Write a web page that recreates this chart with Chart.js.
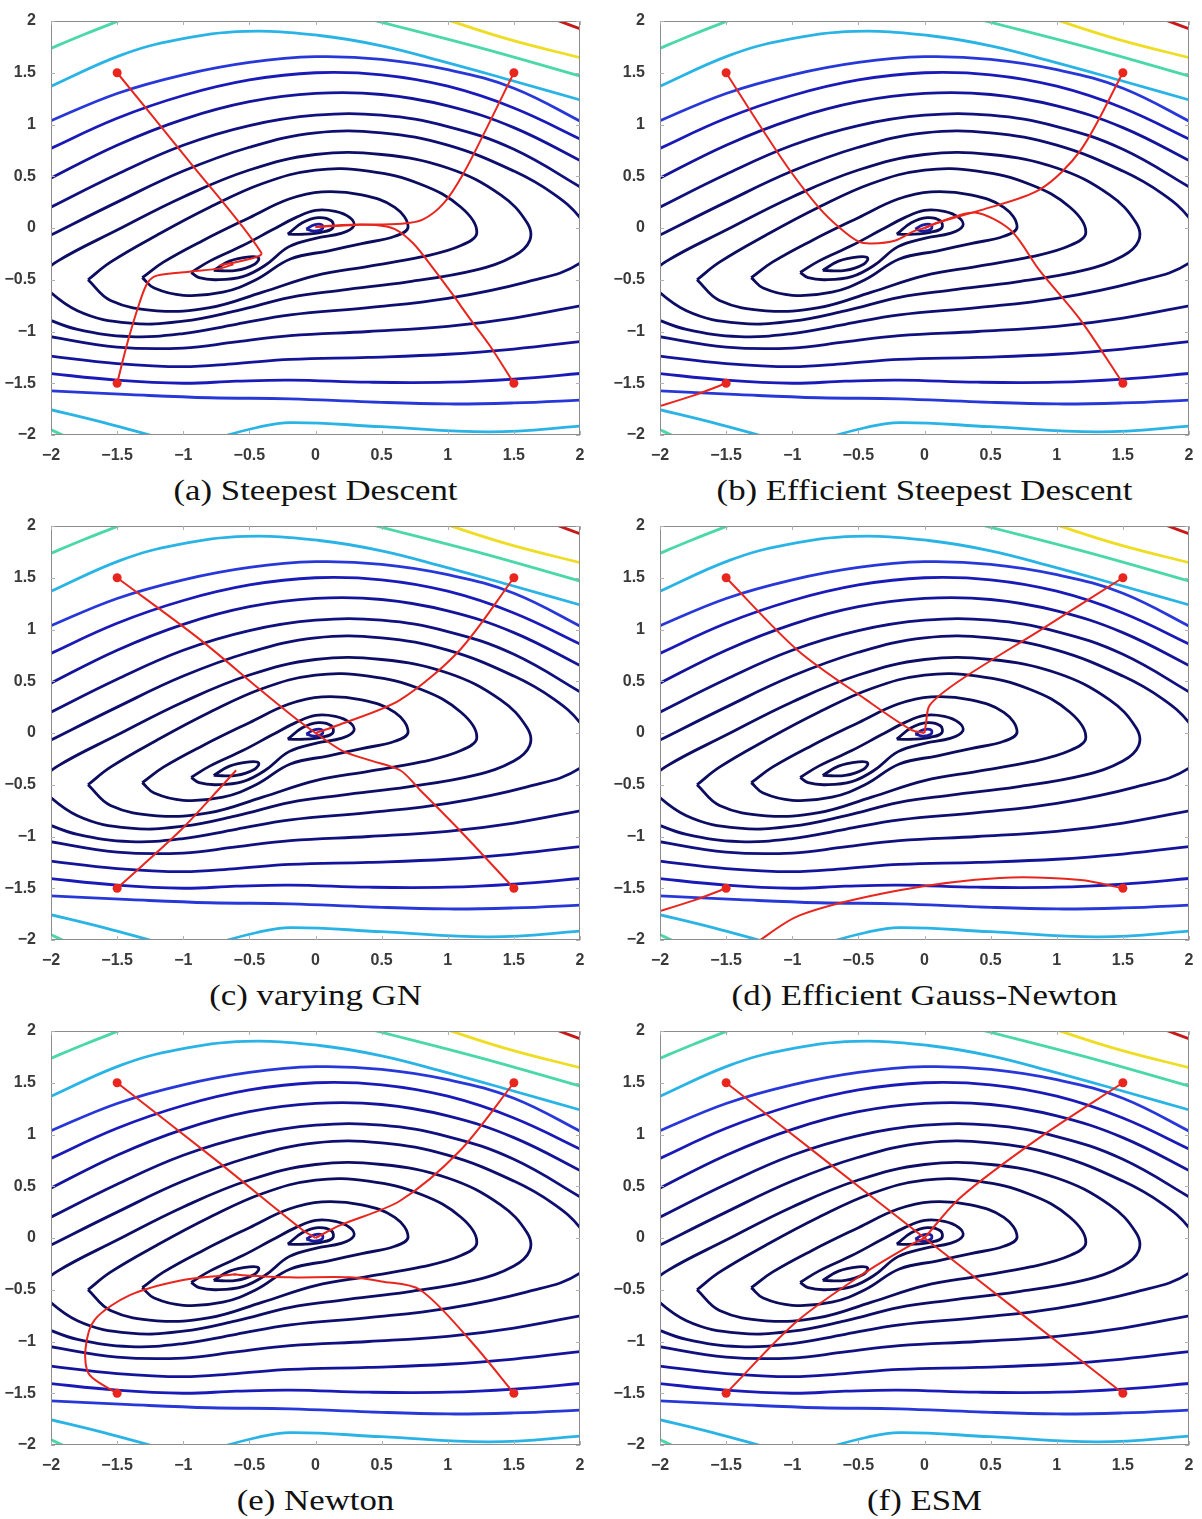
<!DOCTYPE html>
<html>
<head>
<meta charset="utf-8">
<script src="https://cdn.jsdelivr.net/npm/chart.js@4.4.0/dist/chart.umd.min.js"></script>
<style>
  body { margin: 0; background: #fff; width: 1202px; height: 1519px; position: relative; overflow: hidden; }
  .panel { position: absolute; width: 600px; height: 470px; }
  .cap { position: absolute; width: 529px; text-align: center; font-family: 'Liberation Serif', 'Times New Roman', serif;
         font-size: 30px; line-height: 34px; color: #111; transform: scaleX(1.16); }
</style>
</head>
<body>
<script>
// axes
const tickValues = [-2, -1.5, -1, -0.5, 0, 0.5, 1, 1.5, 2];
const tickLabels = ['\u22122', '\u22121.5', '\u22121', '\u22120.5', '0', '0.5', '1', '1.5', '2'];
const captions = ['(a) Steepest Descent', '(b) Efficient Steepest Descent', '(c) varying GN',
                  '(d) Efficient Gauss-Newton', '(e) Newton', '(f) ESM'];

// contour lines (same surface in every panel)
const loop0 = [[-0.07,-0.01],[-0.01,0.03],[0.05,0.03],[0.05,-0.01],[-0.01,-0.03],[-0.07,-0.01]];
const loop1 = [[-0.21,-0.06],[-0.1,0.05],[0.02,0.1],[0.12,0.07],[0.13,0.0],[0.05,-0.04],[-0.08,-0.06],[-0.21,-0.06]];
const loop1b = [[-0.77,-0.41],[-0.65,-0.32],[-0.5,-0.28],[-0.43,-0.29],[-0.46,-0.35],[-0.6,-0.41],[-0.77,-0.41]];
const loop2 = [[-0.94,-0.43],[-0.8,-0.32],[-0.55,-0.17],[-0.33,-0.02],[-0.15,0.1],[0.0,0.17],[0.15,0.16],[0.26,0.1],[0.29,0.02],
               [0.2,-0.05],[0.0,-0.1],[-0.2,-0.18],[-0.38,-0.36],[-0.55,-0.47],[-0.75,-0.5],[-0.88,-0.48],[-0.94,-0.43]];
const loop3 = [[-1.31,-0.48],[-1.15,-0.33],[-0.85,-0.12],[-0.5,0.1],[-0.2,0.28],[0.05,0.35],[0.35,0.32],[0.6,0.2],[0.7,0.01],
               [0.6,-0.08],[0.35,-0.15],[0.1,-0.22],[-0.19,-0.3],[-0.45,-0.5],[-0.7,-0.62],[-1.0,-0.65],[-1.22,-0.58],[-1.31,-0.48]];
const loop4 = [[-1.72,-0.5],[-1.55,-0.33],[-1.2,-0.07],[-0.8,0.2],[-0.4,0.43],[0,0.56],[0.4,0.55],[0.8,0.42],[1.1,0.2],[1.22,-0.04],
               [1.1,-0.17],[0.8,-0.28],[0.4,-0.37],[0.0,-0.46],[-0.4,-0.62],[-0.8,-0.77],[-1.2,-0.8],[-1.55,-0.7],[-1.72,-0.5]];
const loop5 = [[-2.12,-0.5],[-1.95,-0.32],[-1.5,-0.02],[-1.0,0.3],[-0.5,0.56],[0,0.71],[0.5,0.71],[1.0,0.58],[1.4,0.32],[1.6,0.05],
               [1.62,-0.12],[1.5,-0.27],[1.2,-0.41],[0.7,-0.52],[0.2,-0.6],[-0.19,-0.67],[-0.6,-0.8],[-1.0,-0.9],[-1.4,-0.92],[-1.8,-0.8],[-2.12,-0.5]];
const c6 = [[-2.05,-0.1],[-1.5,0.25],[-1.0,0.55],[-0.5,0.78],[0,0.92],[0.5,0.92],[1.0,0.8],[1.5,0.55],[1.8,0.33],[2.0,0.1],
            [2.08,-0.12],[2.0,-0.34],[1.6,-0.52],[1.0,-0.68],[0.4,-0.77],[-0.19,-0.84],[-0.6,-0.93],[-1.0,-1.02],[-1.4,-1.05],[-1.8,-0.98],[-2.05,-0.87]];
const c7Upper = [[-2.05,0.17],[-1.5,0.52],[-1.0,0.8],[-0.5,0.99],[0,1.09],[0.5,1.09],[1.0,0.98],[1.5,0.76],[2.05,0.36]];
const c7Lower = [[2.05,-0.74],[1.5,-0.87],[1.0,-0.95],[0.4,-1.0],[-0.19,-1.04],[-0.6,-1.1],[-1.0,-1.16],[-1.5,-1.15],[-2.05,-1.04]];
const c8Upper = [[-2.05,0.45],[-1.5,0.8],[-1.0,1.05],[-0.5,1.22],[0,1.30],[0.5,1.29],[1.0,1.18],[1.5,0.97],[2.05,0.62]];
const c8Lower = [[2.05,-1.09],[1.5,-1.17],[1.0,-1.22],[0.4,-1.25],[-0.19,-1.27],[-0.6,-1.31],[-1.0,-1.34],[-1.5,-1.31],[-2.05,-1.23]];
const c9Upper = [[-2.05,0.74],[-1.5,1.06],[-1.0,1.28],[-0.5,1.43],[0,1.50],[0.5,1.48],[1.0,1.37],[1.5,1.16],[2.05,0.83]];
const c9Lower = [[2.05,-1.4],[1.5,-1.46],[1.0,-1.49],[0.4,-1.49],[-0.19,-1.47],[-0.6,-1.48],[-1.0,-1.5],[-1.5,-1.47],[-2.05,-1.4]];
const c10Upper = [[-2.05,1.01],[-1.5,1.3],[-1.0,1.48],[-0.5,1.6],[0,1.655],[0.5,1.63],[1.0,1.53],[1.5,1.35],[2.05,1.0]];
const c10Lower = [[2.05,-1.66],[1.5,-1.69],[1.0,-1.7],[0.4,-1.68],[-0.19,-1.65],[-0.8,-1.64],[-1.4,-1.61],[-2.05,-1.57]];
const cyanUpper = [[-2.05,1.34],[-1.47,1.67],[-1.04,1.82],[-0.53,1.9],[0.03,1.86],[0.5,1.76],[0.96,1.61],[1.47,1.43],[2.05,1.22]];
const cyanLower = [[-2.05,-1.74],[-1.6,-1.88],[-1.2,-2.02]];
const cyanBottom = [[-0.8,-2.05],[-0.45,-1.93],[-0.19,-1.88],[0.5,-1.92],[1.32,-1.97],[2.05,-1.91]];
const greenLeft = [[-2.05,1.71],[-1.75,1.87],[-1.45,2.02]];
const greenRight = [[0.4,2.02],[1.22,1.75],[2.05,1.45]];
const greenCorner = [[-2.05,-1.92],[-1.88,-2.02]];
const yellowLine = [[0.95,2.03],[1.47,1.82],[2.05,1.63]];
const redLine = [[1.78,2.03],[2.05,1.9]];

const contourList = [
  { pts: loop0, color: '#1a1aa0' }, { pts: loop1, color: '#0c0c58' }, { pts: loop1b, color: '#0c0c58' }, { pts: loop2, color: '#0c0c58' },
  { pts: loop3, color: '#0c0c5c' }, { pts: loop4, color: '#0c0c60' }, { pts: loop5, color: '#0d0d66' },
  { pts: c6, color: '#0e0e70' },
  { pts: c7Upper, color: '#10107e' }, { pts: c7Lower, color: '#10107e' },
  { pts: c8Upper, color: '#14149a' }, { pts: c8Lower, color: '#14149a' },
  { pts: c9Upper, color: '#1a1ab8' }, { pts: c9Lower, color: '#1a1ab8' },
  { pts: c10Upper, color: '#2838d8' }, { pts: c10Lower, color: '#2838d8' },
  { pts: cyanUpper, color: '#2ab4e6' }, { pts: cyanLower, color: '#2ab4e6' }, { pts: cyanBottom, color: '#2ab4e6' },
  { pts: greenLeft, color: '#4ad8a8' }, { pts: greenRight, color: '#4ad8a8' }, { pts: greenCorner, color: '#4ad8a8' },
  { pts: yellowLine, color: '#eedd22' }, { pts: redLine, color: '#c81818' }
];

// optimisation paths, one list per panel (start point first)
const pathsA = [
  [[-1.5,1.5],[-0.96,0.65],[-0.41,-0.24],[-0.5,-0.3],[-0.72,-0.36],[-0.6,-0.33]],
  [[-1.5,-1.5],[-1.42,-1.1],[-1.33,-0.72],[-1.27,-0.53],[-1.2,-0.46],[-0.94,-0.42],[-0.72,-0.39],[-0.62,-0.35]],
  [[1.5,1.5],[1.3,0.98],[1.12,0.53],[0.97,0.24],[0.81,0.08],[0.65,0.04],[0.3,0.03],[0,0.01]],
  [[1.5,-1.5],[1.32,-1.14],[1.17,-0.88],[1.03,-0.63],[0.89,-0.39],[0.74,-0.15],[0.6,-0.01],[0.45,0.03],[0.2,0.03],[0,0.01]]
];
const pathsB = [
  [[-1.5,1.5],[-1.25,1.0],[-1.02,0.56],[-0.8,0.2],[-0.64,0.0],[-0.5,-0.13],[-0.4,-0.15],[-0.22,-0.12],[-0.08,-0.03],[0,0]],
  [[1.5,1.5],[1.18,0.75],[0.87,0.37],[0.42,0.17],[0.12,0.06],[0,0]],
  [[1.5,-1.5],[1.18,-0.89],[0.87,-0.41],[0.65,-0.02],[0.38,0.15],[0.12,0.06],[0,0]],
  [[-1.5,-1.5],[-1.75,-1.62],[-2.05,-1.74]]
];
const pathsC = [
  [[-1.5,1.5],[-0.87,0.9],[-0.42,0.42],[-0.15,0.14],[0,0]],
  [[1.5,1.5],[1.09,0.8],[0.64,0.32],[0.18,0.08],[0,0]],
  [[1.5,-1.5],[1.09,-0.94],[0.79,-0.55],[0.64,-0.36],[0.4,-0.26],[0.2,-0.17],[0,0]],
  [[-1.5,-1.5],[-1.02,-0.94],[-0.7,-0.5],[-0.6,-0.36]]
];
const pathsD = [
  [[-1.5,1.5],[-0.96,0.8],[-0.44,0.32],[-0.1,0.03],[0,0]],
  [[1.5,1.5],[0.87,0.99],[0.27,0.51],[0.04,0.27],[0.01,0.08],[0,0]],
  [[1.5,-1.5],[1.18,-1.42],[0.57,-1.4],[-0.19,-1.52],[-0.94,-1.76],[-1.3,-2.05]],
  [[-1.5,-1.5],[-1.75,-1.62],[-2.05,-1.74]]
];
const pathsE = [
  [[-1.5,1.5],[-0.75,0.75],[-0.1,0.08],[0,0]],
  [[1.5,1.5],[1.09,0.84],[0.64,0.36],[0.18,0.12],[0,0]],
  [[1.5,-1.5],[1.17,-0.99],[0.79,-0.5],[0.5,-0.42],[0.26,-0.38],[-0.2,-0.38],[-0.55,-0.36],[-0.62,-0.35]],
  [[-1.5,-1.5],[-1.71,-1.32],[-1.74,-1.08],[-1.67,-0.79],[-1.4,-0.55],[-1.02,-0.41],[-0.68,-0.36],[-0.6,-0.35]]
];
const pathsF = [
  [[-1.5,1.5],[-0.75,0.75],[0,0]],
  [[1.5,1.5],[0.87,0.97],[0.27,0.39],[0,0]],
  [[1.5,-1.5],[0.75,-0.75],[0,0]],
  [[-1.5,-1.5],[-0.96,-0.8],[-0.42,-0.31],[-0.08,-0.05],[0,0]]
];
const allPaths = [pathsA, pathsB, pathsC, pathsD, pathsE, pathsF];

const labelFont = { family: "'Liberation Sans', Arial, sans-serif", size: 16, weight: 'bold' };

// box round the plot + small inward ticks like matlab
const framePlugin = {
  id: 'frame',
  afterDraw(chart) {
    const { ctx, chartArea: a, scales } = chart;
    ctx.save();
    ctx.strokeStyle = '#8c8c8c';
    ctx.lineWidth = 1;
    ctx.strokeRect(a.left + 0.5, a.top + 0.5, a.width - 1, a.height - 1);
    ctx.strokeStyle = '#b0b0b0';
    tickValues.forEach(v => {
      const x = Math.round(scales.x.getPixelForValue(v)) + 0.5;
      const y = Math.round(scales.y.getPixelForValue(v)) + 0.5;
      ctx.beginPath();
      ctx.moveTo(x, a.bottom); ctx.lineTo(x, a.bottom - 4);
      ctx.moveTo(x, a.top); ctx.lineTo(x, a.top + 4);
      ctx.moveTo(a.left, y); ctx.lineTo(a.left + 4, y);
      ctx.moveTo(a.right, y); ctx.lineTo(a.right - 4, y);
      ctx.stroke();
    });
    ctx.restore();
  }
};

function toXY(pts) {
  return pts.map(p => ({ x: p[0], y: p[1] }));
}

function makePanel(i) {
  const col = i % 2;
  const row = Math.floor(i / 2);
  const wrap = document.createElement('div');
  wrap.className = 'panel';
  wrap.style.left = (col * 609) + 'px';
  wrap.style.top = (row * 505) + 'px';
  const canvas = document.createElement('canvas');
  canvas.width = 600;
  canvas.height = 470;
  wrap.appendChild(canvas);
  document.body.appendChild(wrap);

  const cap = document.createElement('div');
  cap.className = 'cap';
  cap.textContent = captions[i];
  cap.style.left = (col * 609 + 51) + 'px';
  cap.style.top = (row * 505 + 473) + 'px';
  document.body.appendChild(cap);

  const datasets = [];
  allPaths[i].forEach(p => {
    datasets.push({
      data: toXY(p),
      showLine: true,
      borderColor: '#e8261e',
      backgroundColor: '#e8261e',
      borderWidth: 2,
      tension: 0.3,
      pointRadius: ctx => ctx.dataIndex === 0 ? 4.5 : 0,
      pointBorderWidth: 0,
      clip: 0,
      order: 0
    });
  });
  contourList.forEach(c => {
    datasets.push({
      data: toXY(c.pts),
      showLine: true,
      borderColor: c.color,
      borderWidth: 2.8,
      tension: 0.4,
      pointRadius: 0,
      clip: 0,
      order: 1
    });
  });

  new Chart(canvas, {
    type: 'scatter',
    data: { datasets },
    options: {
      responsive: false,
      animation: false,
      devicePixelRatio: 1,
      layout: { padding: { top: 21, right: 20, left: 0, bottom: 0 } },
      plugins: { legend: { display: false }, tooltip: { enabled: false } },
      scales: {
        x: {
          type: 'linear', min: -2, max: 2,
          afterBuildTicks: s => { s.ticks = tickValues.map(v => ({ value: v })); },
          afterFit: s => { s.height = 35; },
          grid: { display: false }, border: { display: false },
          ticks: { font: labelFont, color: '#3a3a3a', padding: 3, maxRotation: 0, autoSkip: false,
                   callback: v => tickLabels[tickValues.indexOf(v)] }
        },
        y: {
          type: 'linear', min: -2, max: 2,
          afterBuildTicks: s => { s.ticks = tickValues.map(v => ({ value: v })); },
          afterFit: s => { s.width = 51; },
          grid: { display: false }, border: { display: false },
          ticks: { font: labelFont, color: '#3a3a3a', padding: 7, autoSkip: false,
                   callback: v => tickLabels[tickValues.indexOf(v)] }
        }
      }
    },
    plugins: [framePlugin]
  });
}

for (let i = 0; i < 6; i++) makePanel(i);
</script>
</body>
</html>
